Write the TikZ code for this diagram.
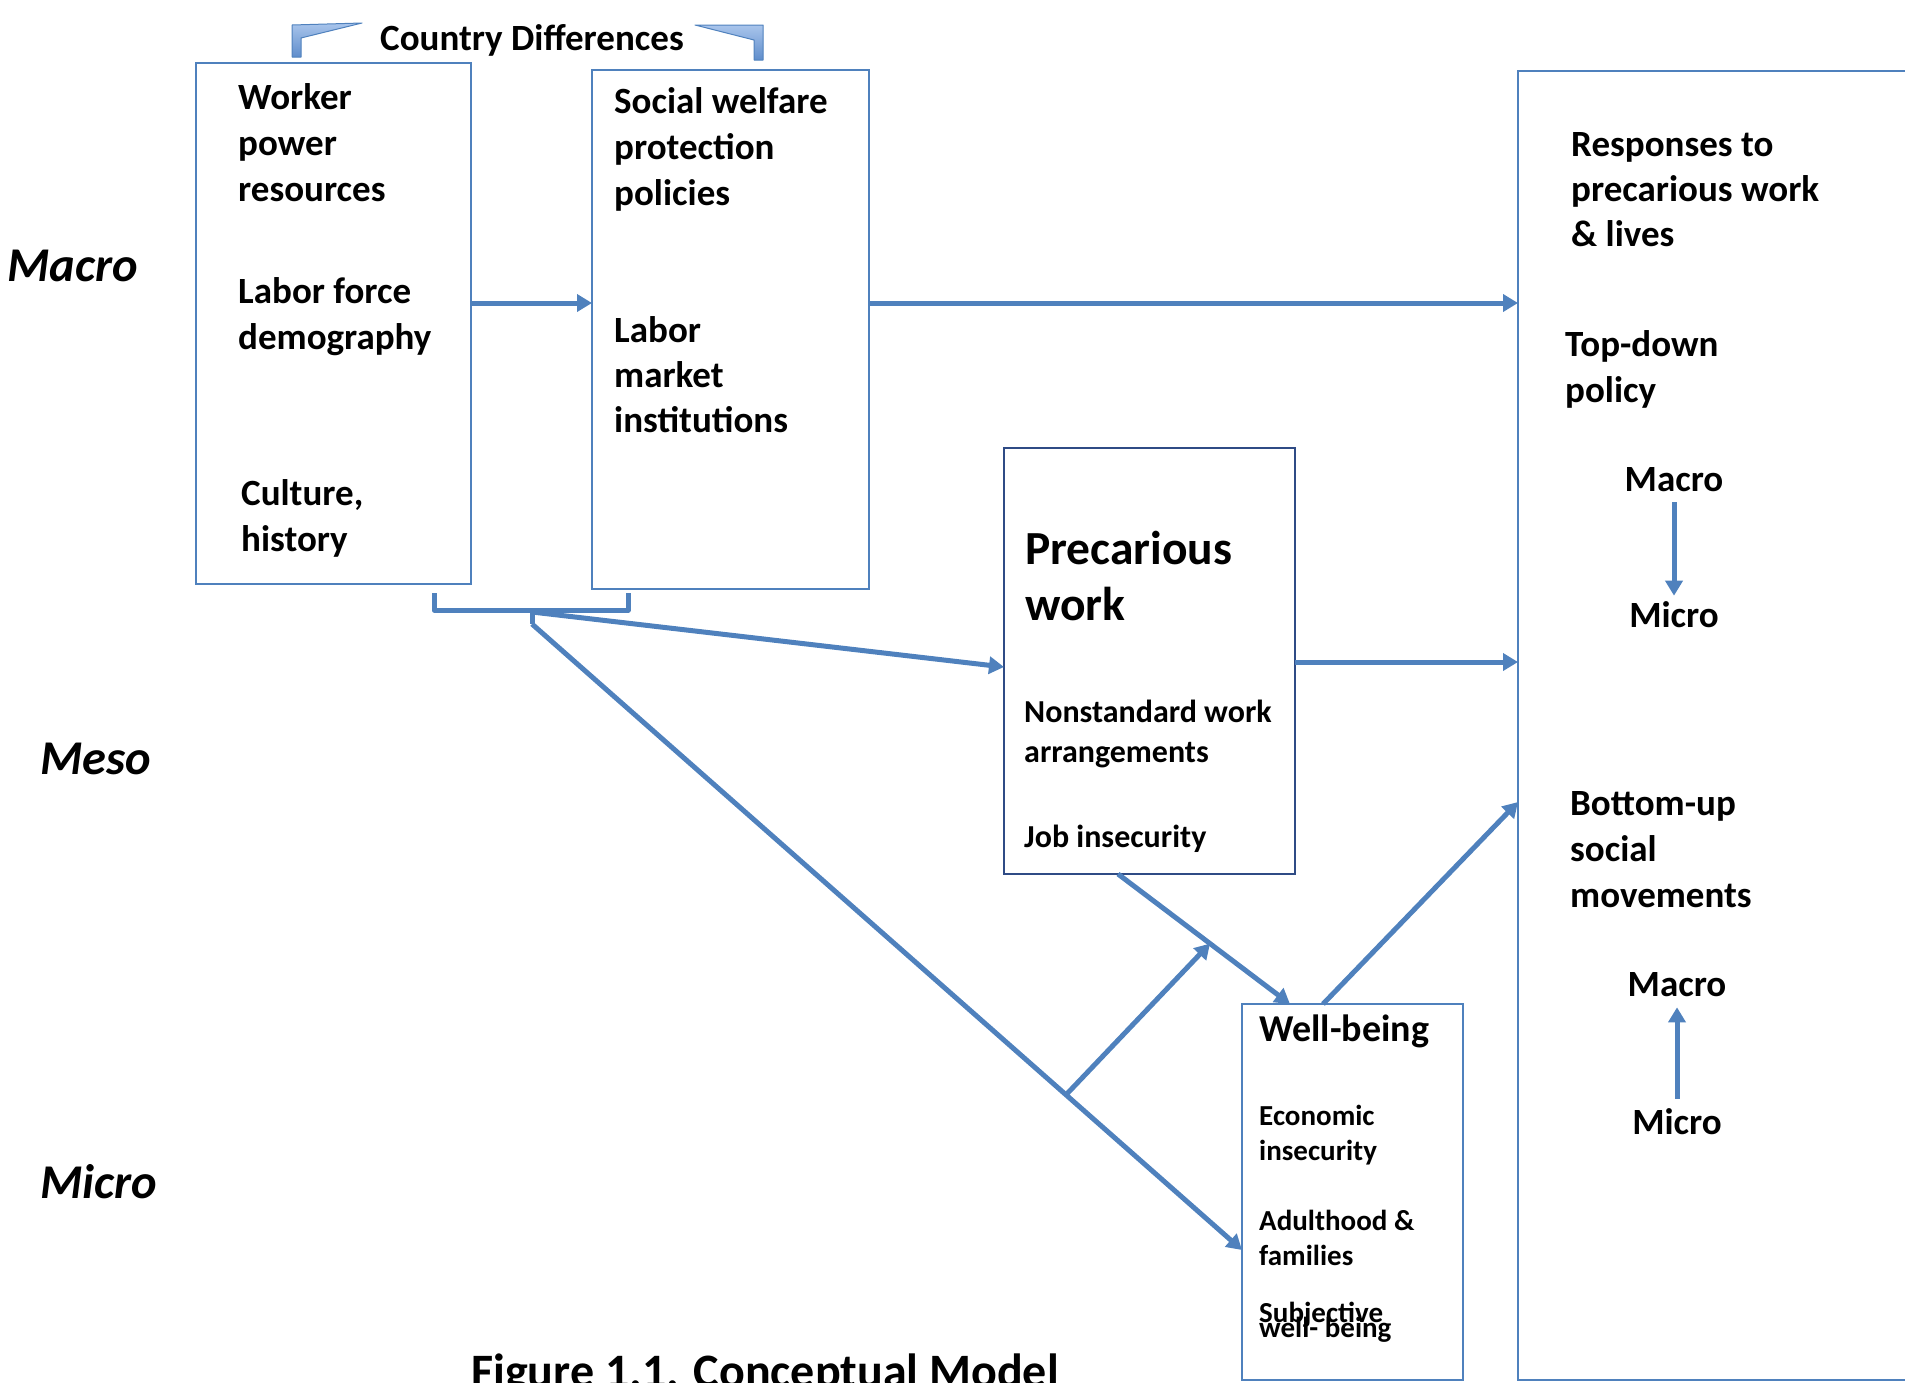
\documentclass[tikz,border=0pt]{standalone}
\usepackage{fontspec}
\setmainfont{Carlito}
\usetikzlibrary{arrows.meta,calc}
\definecolor{ln}{HTML}{4F81BD}
\definecolor{bd}{HTML}{4F81BD}
\definecolor{dk}{HTML}{2F4B85}
\definecolor{brt}{HTML}{A9C5EC}
\definecolor{brb}{HTML}{5F8DCB}
\begin{document}
\begin{tikzpicture}[x=1pt,y=-1pt,
  box/.style={draw=bd, line width=2pt, anchor=north west, inner sep=0pt, outer sep=0pt},
  txt/.style={anchor=north west, inner sep=0pt, align=left, font=\bfseries\fontsize{37}{46}\selectfont},
  txtb/.style={txt, font=\bfseries\fontsize{37}{45}\selectfont},
  big/.style={txt, font=\bfseries\fontsize{47.5}{56}\selectfont},
  mid/.style={txt, font=\bfseries\fontsize{32}{40}\selectfont},
  sml/.style={txt, font=\bfseries\fontsize{29}{35}\selectfont},
  wbh/.style={txt, font=\bfseries\fontsize{38}{46}\selectfont},
  lvl/.style={anchor=west, inner sep=0pt, font=\bfseries\itshape\fontsize{48.5}{56}\selectfont},
  scl/.style={anchor=center, inner sep=0pt, font=\bfseries\fontsize{37}{44}\selectfont},
  conn/.style={draw=ln, line width=5pt},
  arr/.style={conn, -{Triangle[length=15pt,width=17pt]}},
  brk/.style={top color=brt, bottom color=brb, draw=bd, line width=1pt, line join=round},
]
\useasboundingbox (0,0) rectangle (1905,1382);

% boxes
\node[box, minimum width=275pt, minimum height=521pt] (b1) at (196,63) {};
\node[box, minimum width=277pt, minimum height=519pt] (b2) at (592,70) {};
\node[box, minimum width=400pt, minimum height=1309pt] (rb) at (1518,71) {};
\node[box, draw=dk, line width=2.5pt, minimum width=291pt, minimum height=426pt] (pw) at (1004,448) {};
\node[box, minimum width=221pt, minimum height=376pt] (wb) at (1242,1004) {};

% level labels
\node[lvl] (lmac) at (7,266) {Macro};
\node[lvl] (lmes) at (40,759) {Meso};
\node[lvl] (lmic) at (40,1182) {Micro};

% top bracket
\path[brk] (292,57) -- (292,25) -- (362,23) -- (301,38) -- (301,57) -- cycle;
\path[brk] (695,25) -- (763,25) -- (763,60) -- (754,60) -- (754,40) -- cycle;
\node[anchor=base west, inner sep=0pt, font=\bfseries\fontsize{37}{44}\selectfont] (cd) at (380,50) {Country Differences};

% box texts
\node[txt] (t1) at (238,83) {Worker\\power\\resources};
\node[txt] (t2) at (238,277) {Labor force\\demography};
\node[txt] (t3) at (241,479) {Culture,\\history};
\node[txt] (t4) at (614,87) {Social welfare\\protection\\policies};
\node[txtb] (t5) at (614,316) {Labor\\market\\institutions};

\node[txtb] (t6) at (1571,132) {Responses to\\precarious work\\\& lives};
\node[txt] (t7) at (1565,330) {Top-down\\policy};
\node[scl] (m1) at (1674,480) {Macro};
\node[scl] (m2) at (1674,615) {Micro};
\node[txt] (t8) at (1570,791) {Bottom-up\\social\\movements};
\node[scl] (m3) at (1677,985) {Macro};
\node[scl] (m4) at (1677,1122) {Micro};

\node[big] (t9) at (1025,531) {Precarious\\work};
\node[mid] (t10) at (1024,700) {Nonstandard work\\arrangements};
\node[mid] (t11) at (1024,825) {Job insecurity};

\node[wbh] (t12) at (1259,1015) {Well-being};
\node[sml] (t13) at (1259,1105) {Economic\\insecurity};
\node[sml] (t14) at (1259,1210) {Adulthood \&\\families};
\node[sml] (t15) at (1259,1302) {Subjective};
\node[sml] (t16) at (1259,1317) {well- being};

% caption
\node[anchor=base west, inner sep=0pt, font=\bfseries\fontsize{48}{56}\selectfont] (cap) at (471,1387) {Figure 1.1. Conceptual Model};

% bottom bracket and junctions
\coordinate (bl) at (434,593);
\coordinate (br) at (628,593);
\coordinate (j) at (532,612);
\coordinate (j0) at (532,624);
\draw[conn, line join=round] (bl) -- (434,610) -- (628,610) -- (br);
\draw[conn] (532,610) -- (j0);

\draw[arr] (j) -- (pw.west |- 0,667);
\draw[arr] (j0) -- (wb.west |- 0,1250);
\coordinate (j2) at ($(j0)!0.7521!(wb.west |- 0,1250)$);

\coordinate (ps) at (pw.south -| 1118,0);
\coordinate (wn) at (wb.north -| 1290,0);
\draw[arr] (ps) -- (wn);
\coordinate (mod) at ($(ps)!0.535!(wn)$);
\draw[arr] (j2) -- (mod);

\draw[arr] (wb.north -| 1323,0) -- (rb.west |- 0,802);
\draw[arr] (b1.east |- 0,303) -- (b2.west |- 0,303);
\draw[arr] (b2.east |- 0,303) -- (rb.west |- 0,303);
\draw[arr] (pw.east |- 0,662) -- (rb.west |- 0,662);

\draw[arr, shorten <=10pt, shorten >=6pt] (m1.south) -- (m2.north);
\draw[arr, shorten <=10pt, shorten >=10pt] (m4.north) -- (m3.south);
\end{tikzpicture}
\end{document}
